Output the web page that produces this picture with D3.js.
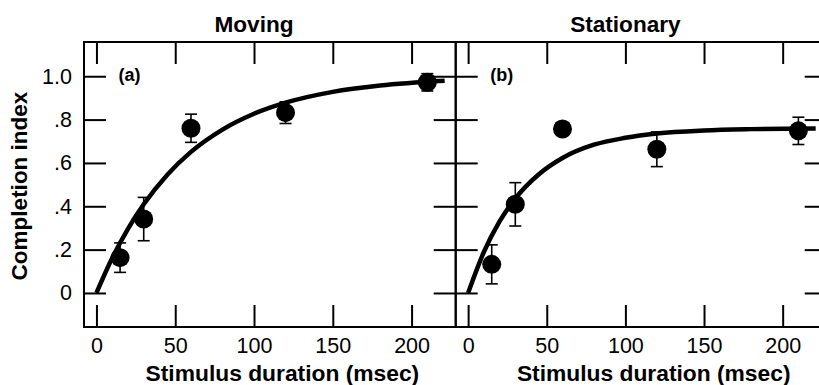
<!DOCTYPE html>
<html>
<head>
<meta charset="utf-8">
<script src="https://cdn.jsdelivr.net/npm/d3@7/dist/d3.min.js"></script>
<style>
  html, body { margin: 0; padding: 0; background: #fff; }
  svg { display: block; }
  text { font-family: "Liberation Sans", Arial, Helvetica, sans-serif; fill: #000; }
</style>
</head>
<body>
<svg id="chart" width="819" height="385"></svg>
<script>
// ---- data ----
const panelTitles = ["Moving", "Stationary"];
const panelTags = ["(a)", "(b)"];
const durations = [15, 30, 60, 120, 210];
const movingMean = [0.163, 0.341, 0.760, 0.832, 0.972];
const movingErr = [0.068, 0.100, 0.065, 0.050, 0.040];
const stationaryMean = [0.132, 0.409, 0.757, 0.663, 0.748];
const stationaryErr = [0.090, 0.100, 0.030, 0.080, 0.063];
// fitted curves
const curveX = [0, 10, 20, 30, 45, 60, 80, 100, 120, 150, 180, 221];
const movingFit = [0, 0.161, 0.296, 0.409, 0.546, 0.651, 0.754, 0.827, 0.878, 0.928, 0.957, 0.979];
const stationaryFit = [0, 0.189, 0.330, 0.436, 0.548, 0.623, 0.684, 0.716, 0.736, 0.750, 0.756, 0.759];
const xTicks = [0, 50, 100, 150, 200];
const yTicks = [0, 0.2, 0.4, 0.6, 0.8, 1.0];
const yTickLabels = ["0", ".2", ".4", ".6", ".8", "1.0"];
const xTitle = "Stimulus duration (msec)";
const yTitle = "Completion index";

(function () {
const svg = d3.select("#chart");
const frameTop = 42, frameBottom = 327;
const y = d3.scaleLinear().domain([-0.157, 1.158]).range([frameBottom, frameTop]);

const panels = [
  { x0: 84, x1: 455.7, mean: movingMean, err: movingErr, fit: movingFit },
  { x0: 455.7, x1: 826.7, mean: stationaryMean, err: stationaryErr, fit: stationaryFit }
];

panels.forEach((p, i) => {
  const x = d3.scaleLinear().domain([-7.9, 228]).range([p.x0, p.x1]);
  const g = svg.append("g");

  // frame
  g.append("rect").attr("x", p.x0).attr("y", frameTop)
    .attr("width", p.x1 - p.x0).attr("height", frameBottom - frameTop)
    .attr("fill", "none").attr("stroke", "#000").attr("stroke-width", 2);

  const tickLen = 22;
  const axB = g.append("g").attr("transform", `translate(0,${frameBottom})`)
    .call(d3.axisBottom(x).tickValues(xTicks).tickSize(-tickLen).tickPadding(11).tickFormat(d3.format("d")));
  const axT = g.append("g").attr("transform", `translate(0,${frameTop})`)
    .call(d3.axisTop(x).tickValues(xTicks).tickSize(-tickLen).tickFormat(""));
  const axL = g.append("g").attr("transform", `translate(${p.x0},0)`)
    .call(d3.axisLeft(y).tickValues(yTicks).tickSize(-tickLen).tickPadding(12)
      .tickFormat((d, k) => i === 0 ? yTickLabels[k] : ""));
  const axR = g.append("g").attr("transform", `translate(${p.x1},0)`)
    .call(d3.axisRight(y).tickValues(yTicks).tickSize(-tickLen).tickFormat(""));

  [axB, axT, axL, axR].forEach(a => {
    a.select(".domain").remove();
    a.selectAll(".tick line").attr("stroke", "#000").attr("stroke-width", 2);
    a.selectAll(".tick text").style("font-family", "'Liberation Sans', Arial, sans-serif")
      .style("font-size", "21.5px").attr("fill", "#000");
  });

  // fitted curve
  const line = d3.line().x(d => x(d[0])).y(d => y(d[1])).curve(d3.curveMonotoneX);
  g.append("path").datum(curveX.map((cx, k) => [cx, p.fit[k]]))
    .attr("d", line).attr("fill", "none").attr("stroke", "#000").attr("stroke-width", 4.5);

  // error bars
  const pts = durations.map((d, k) => ({ d, m: p.mean[k], e: p.err[k] }));
  const eb = g.append("g").selectAll("g").data(pts).join("g");
  eb.append("line").attr("x1", d => x(d.d)).attr("x2", d => x(d.d))
    .attr("y1", d => y(d.m - d.e)).attr("y2", d => y(d.m + d.e))
    .attr("stroke", "#000").attr("stroke-width", 1.6);
  eb.append("line").attr("x1", d => x(d.d) - 6).attr("x2", d => x(d.d) + 6)
    .attr("y1", d => y(d.m + d.e)).attr("y2", d => y(d.m + d.e))
    .attr("stroke", "#000").attr("stroke-width", 1.6);
  eb.append("line").attr("x1", d => x(d.d) - 6).attr("x2", d => x(d.d) + 6)
    .attr("y1", d => y(d.m - d.e)).attr("y2", d => y(d.m - d.e))
    .attr("stroke", "#000").attr("stroke-width", 1.6);
  // markers
  g.append("g").selectAll("circle").data(pts).join("circle")
    .attr("cx", d => x(d.d)).attr("cy", d => y(d.m)).attr("r", 9.5).attr("fill", "#000");

  // title
  g.append("text").attr("x", x(100)).attr("y", 32).attr("text-anchor", "middle")
    .style("font-size", "22.6px").style("font-weight", "bold").text(panelTitles[i]);
  // tag
  g.append("text").attr("x", x(14)).attr("y", 81)
    .style("font-size", "18px").style("font-weight", "bold").text(panelTags[i]);
  // x title
  g.append("text").attr("x", x(118)).attr("y", 381).attr("text-anchor", "middle")
    .style("font-size", "22.8px").style("font-weight", "bold").text(xTitle);
});

// y title
svg.append("text").attr("transform", `translate(27,186) rotate(-90)`)
  .attr("text-anchor", "middle").style("font-size", "22.5px").style("font-weight", "bold")
  .text(yTitle);
})();
</script>
</body>
</html>
